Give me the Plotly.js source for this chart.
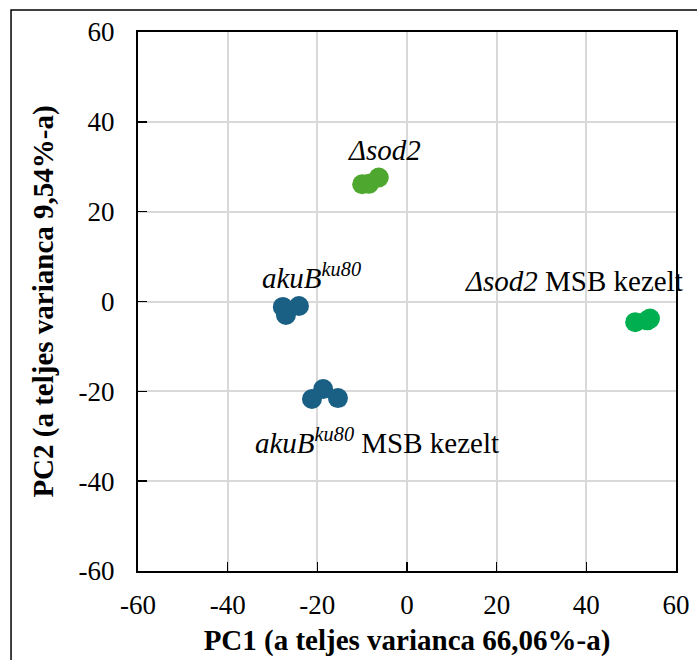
<!DOCTYPE html>
<html><head><meta charset="utf-8">
<script src="https://cdn.plot.ly/plotly-3.0.1.min.js"></script>
<style>body{margin:0;padding:0;background:#fff;}#chart{width:697px;height:660px;}</style>
</head><body><div id="chart"></div>
<script>
var groupNames = ["akuB ku80", "akuB ku80 MSB kezelt", "Δsod2", "Δsod2 MSB kezelt"];
var akuB_x = [-27.7, -24.1, -27.0];
var akuB_y = [-1.2, -1.0, -3.0];
var akuBMSB_x = [-21.2, -18.7, -15.4];
var akuBMSB_y = [-21.7, -19.5, -21.5];
var sod2_x = [-10.0, -8.5, -6.3];
var sod2_y = [26.1, 26.2, 27.6];
var sod2MSB_x = [50.9, 53.6, 54.2];
var sod2MSB_y = [-4.6, -4.2, -3.8];
var colors = ["#1a6085", "#1a6085", "#4ea72e", "#00b050"];
var labels = ["<i>akuB<sup>ku80</sup></i>", "<i>akuB<sup>ku80</sup></i> MSB kezelt", "<i>Δsod2</i>", "<i>Δsod2</i> MSB kezelt"];
var labelX = [-21.2, -6.7, -5.1, 37.2];
var labelY = [5.7, -31.0, 33.7, 4.6];
var xTicks = [-60, -40, -20, 0, 20, 40, 60];
var yTicks = [-60, -40, -20, 0, 20, 40, 60];

var serif = 'Liberation Serif, Times New Roman, serif';
var xs = [akuB_x, akuBMSB_x, sod2_x, sod2MSB_x];
var ys = [akuB_y, akuBMSB_y, sod2_y, sod2MSB_y];
var traces = xs.map(function(x, i){
  return {x: x, y: ys[i], mode: 'markers', type: 'scatter', name: groupNames[i],
    marker: {size: 20, color: colors[i], line: {width: 0}}, showlegend: false};
});
var annotations = labels.map(function(t, i){
  return {x: labelX[i], y: labelY[i], xref: 'x', yref: 'y', text: t, showarrow: false,
    font: {family: serif, size: 29, color: '#000'}};
});
var tickFont = {family: serif, size: 27, color: '#000'};
var titleFont = {family: serif, size: 29, color: '#000'};
var layout = {
  width: 697, height: 660,
  margin: {l: 138, r: 21, t: 32, b: 89, pad: 0},
  paper_bgcolor: '#fff', plot_bgcolor: '#fff',
  font: tickFont,
  showlegend: false,
  xaxis: {range: [-60, 60], tickvals: xTicks, ticktext: xTicks.map(String),
    showgrid: true, gridcolor: '#d9d9d9', gridwidth: 2, zeroline: false,
    showline: true, linecolor: '#000', linewidth: 2, mirror: true,
    ticks: 'inside', ticklen: 9, tickcolor: '#000', tickwidth: 1.5,
    ticklabelstandoff: 9, tickfont: tickFont,
    title: {text: '<b>PC1 (a teljes varianca 66,06%-a)</b>', font: titleFont, standoff: 10}},
  yaxis: {range: [-60, 60], tickvals: yTicks, ticktext: yTicks.map(String),
    showgrid: true, gridcolor: '#d9d9d9', gridwidth: 2, zeroline: false,
    showline: true, linecolor: '#000', linewidth: 2, mirror: true,
    ticks: 'inside', ticklen: 9, tickcolor: '#000', tickwidth: 1.5,
    ticklabelstandoff: 16, tickfont: tickFont,
    title: {text: '<b>PC2 (a teljes varianca 9,54%-a)</b>', font: titleFont, standoff: 16}},
  annotations: annotations,
  shapes: [{type: 'rect', xref: 'paper', yref: 'paper', x0: -0.236, x1: 1.2, y0: -0.3, y1: 1.0408,
    line: {color: '#000', width: 1.5}, fillcolor: 'rgba(0,0,0,0)', layer: 'above'}]
};
Plotly.newPlot('chart', traces, layout, {displayModeBar: false, staticPlot: true});
</script></body></html>
